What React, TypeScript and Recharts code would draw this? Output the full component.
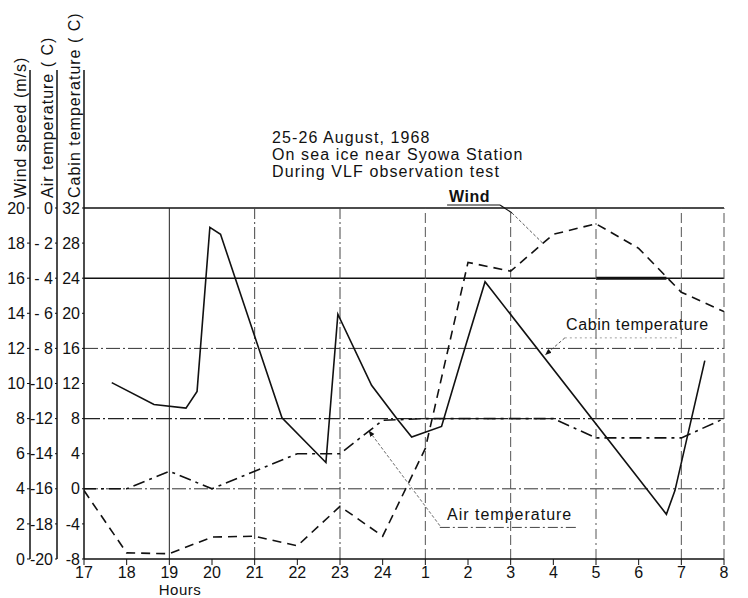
import React from "react";
import { LineChart, Line, XAxis, YAxis, ReferenceLine, Customized } from "recharts";

// hours run on past midnight: 25 = 1 h, 32 = 8 h
const hourTicks = [17, 18, 19, 20, 21, 22, 23, 24, 25, 26, 27, 28, 29, 30, 31, 32];

const windHours = [17, 18, 19, 20, 21, 22, 23, 24, 25, 26, 27, 28, 29, 30, 31, 32];
const windSpeed = [3.9, 0.35, 0.3, 1.25, 1.3, 0.75, 3.0, 1.3, 6.3, 16.9, 16.4, 18.5, 19.1, 17.7, 15.2, 14.1];

const airHours = [17, 18, 19, 20, 21, 22, 23, 24, 25, 26, 27, 28, 29, 30, 31, 32];
const airTemp = [-16, -16, -15, -16, -15, -14, -14, -12.1, -12, -12, -12, -12, -13.1, -13.1, -13.1, -12];

const cabinHours = [17.65, 18.64, 19.39, 19.65, 19.95, 20.2, 21.64, 22.67, 22.95, 23.74, 24.33, 24.68, 25.38, 25.85, 26.4, 30.65, 30.85, 31.55];
const cabinTemp = [12.1, 9.6, 9.2, 11.1, 29.8, 29.0, 8.1, 3.0, 19.9, 11.8, 8.0, 5.9, 7.1, 14.8, 23.6, -2.9, -0.2, 14.6];

const windTicks = [0, 2, 4, 6, 8, 10, 12, 14, 16, 18, 20];
const airTicks = [-20, -18, -16, -14, -12, -10, -8, -6, -4, -2, 0];
const cabinTicks = [-8, -4, 0, 4, 8, 12, 16, 20, 24, 28, 32];

const windData = windHours.map((h, i) => ({ h, v: windSpeed[i] }));
const airData = airHours.map((h, i) => ({ h, v: airTemp[i] }));
const cabinData = cabinHours.map((h, i) => ({ h, v: cabinTemp[i] }));

// left axes are stacked outward from the plot in id order
const CABIN = "y1Cabin";
const AIR = "y2Air";
const WIND = "y3Wind";

const FONT = "'Liberation Sans', Arial, sans-serif";
const INK = "#111";

const fmtHour = (h: number) => String(h > 24 ? h - 24 : h);
const fmtAir = (v: number) => (v === 0 ? "0" : v > -10 ? `- ${-v}` : `${v}`);

const tickStyle = { fontSize: 16, fill: INK, fontFamily: FONT };

function Decorations() {
  const txt = { fontFamily: FONT, fontSize: 16, fill: INK };
  return (
    <g>
      <defs>
        <marker id="arrowHead" viewBox="0 0 10 10" refX="9" refY="5" markerWidth="7" markerHeight="7" orient="auto">
          <path d="M0,1 L10,5 L0,9 z" fill={INK} />
        </marker>
      </defs>
      {/* axis lines continue up past the top grid line */}
      <line x1={30} y1={70} x2={30} y2={208} stroke={INK} strokeWidth={1.5} />
      <line x1={57} y1={70} x2={57} y2={208} stroke={INK} strokeWidth={1.5} />
      <line x1={84} y1={70} x2={84} y2={208} stroke={INK} strokeWidth={1.5} />
      <text {...txt} letterSpacing={1} transform="translate(26,198) rotate(-90)">Wind speed (m/s)</text>
      <text {...txt} letterSpacing={1} transform="translate(53,198) rotate(-90)">Air temperature ( C)</text>
      <text {...txt} letterSpacing={1} transform="translate(80,198) rotate(-90)">Cabin temperature ( C)</text>

      <text {...txt} x={272} y={143} letterSpacing={1.1}>25-26 August, 1968</text>
      <text {...txt} x={272} y={160} letterSpacing={1.1}>On sea ice near Syowa Station</text>
      <text {...txt} x={272} y={177} letterSpacing={1.1}>During VLF observation test</text>

      <text {...txt} x={449} y={202} fontWeight="bold" letterSpacing={0.5}>Wind</text>
      <text {...txt} x={566} y={330} letterSpacing={0.6}>Cabin temperature</text>
      <text {...txt} x={447} y={520} letterSpacing={1}>Air temperature</text>
      <text {...txt} x={180} y={595} fontSize={15} textAnchor="middle" letterSpacing={0.5}>Hours</text>
    </g>
  );
}

export default function App() {
  return (
    <div style={{ position: "absolute", left: 0, top: 0, width: 748, height: 598, background: "#fff" }}>
      <LineChart width={748} height={598} data={windData} margin={{ top: 208, right: 24, bottom: 9, left: 0 }}>
        <XAxis
          dataKey="h"
          type="number"
          domain={[17, 32]}
          ticks={hourTicks}
          tickFormatter={fmtHour}
          interval={0}
          height={30}
          tick={tickStyle}
          tickSize={6}
          tickMargin={2}
          axisLine={{ stroke: INK, strokeWidth: 1.5 }}
          tickLine={{ stroke: INK }}
          allowDataOverflow
        />
        <YAxis
          yAxisId={CABIN}
          orientation="left"
          type="number"
          domain={[-8, 32]}
          ticks={cabinTicks}
          interval={0}
          width={27}
          tick={tickStyle}
          tickSize={2}
          tickMargin={2}
          axisLine={{ stroke: INK, strokeWidth: 1.5 }}
          tickLine={{ stroke: INK }}
        />
        <YAxis
          yAxisId={AIR}
          orientation="left"
          type="number"
          domain={[-20, 0]}
          ticks={airTicks}
          tickFormatter={fmtAir}
          interval={0}
          width={27}
          tick={tickStyle}
          tickSize={2}
          tickMargin={2}
          axisLine={{ stroke: INK, strokeWidth: 1.5 }}
          tickLine={{ stroke: INK }}
        />
        <YAxis
          yAxisId={WIND}
          orientation="left"
          type="number"
          domain={[0, 20]}
          ticks={windTicks}
          interval={0}
          width={30}
          tick={tickStyle}
          tickSize={3}
          tickMargin={2}
          axisLine={{ stroke: INK, strokeWidth: 1.5 }}
          tickLine={{ stroke: INK }}
        />

        {/* horizontal rulings on the cabin scale */}
        <ReferenceLine yAxisId={CABIN} y={32} stroke={INK} strokeWidth={1.5} />
        <ReferenceLine yAxisId={CABIN} y={24} stroke={INK} strokeWidth={1.5} />
        <ReferenceLine yAxisId={CABIN} y={16} stroke="#333" strokeWidth={1} strokeDasharray="14 3 2 3" />
        <ReferenceLine yAxisId={CABIN} y={8} stroke="#222" strokeWidth={1.3} strokeDasharray="16 3 2 3" />
        <ReferenceLine yAxisId={CABIN} y={0} stroke="#333" strokeWidth={1} strokeDasharray="14 3 2 3" />
        <ReferenceLine
          yAxisId={CABIN}
          segment={[{ x: 29, y: 24 }, { x: 30.65, y: 24 }]}
          stroke={INK}
          strokeWidth={3}
        />

        {/* vertical rulings every two hours */}
        <ReferenceLine yAxisId={CABIN} x={19} stroke="#222" strokeWidth={1} />
        <ReferenceLine yAxisId={CABIN} x={21} stroke="#444" strokeWidth={1} strokeDasharray="12 3 2 3" />
        <ReferenceLine yAxisId={CABIN} x={23} stroke="#444" strokeWidth={1} strokeDasharray="12 3 2 3" />
        <ReferenceLine yAxisId={CABIN} x={25} stroke="#555" strokeWidth={1} strokeDasharray="10 4" />
        <ReferenceLine yAxisId={CABIN} x={27} stroke="#555" strokeWidth={1} strokeDasharray="10 4" />
        <ReferenceLine yAxisId={CABIN} x={29} stroke="#555" strokeWidth={1} strokeDasharray="10 4 2 4" />
        <ReferenceLine yAxisId={CABIN} x={31} stroke="#555" strokeWidth={1} strokeDasharray="10 4" />
        <ReferenceLine yAxisId={CABIN} x={32} stroke="#555" strokeWidth={1} strokeDasharray="10 4" />

        <Line
          data={windData}
          yAxisId={WIND}
          dataKey="v"
          type="linear"
          stroke={INK}
          strokeWidth={1.6}
          strokeDasharray="9 6"
          dot={false}
          isAnimationActive={false}
        />
        <Line
          data={airData}
          yAxisId={AIR}
          dataKey="v"
          type="linear"
          stroke={INK}
          strokeWidth={1.6}
          strokeDasharray="12 5 3 5"
          dot={false}
          isAnimationActive={false}
        />
        <Line
          data={cabinData}
          yAxisId={CABIN}
          dataKey="v"
          type="linear"
          stroke={INK}
          strokeWidth={1.6}
          dot={false}
          isAnimationActive={false}
        />

        {/* label leaders */}
        <ReferenceLine
          yAxisId={WIND}
          ifOverflow="visible"
          segment={[{ x: 25.51, y: 20.17 }, { x: 26.75, y: 20.17 }]}
          stroke={INK}
          strokeWidth={1.2}
        />
        <ReferenceLine
          yAxisId={WIND}
          ifOverflow="visible"
          segment={[{ x: 26.75, y: 20.17 }, { x: 27.03, y: 19.72 }]}
          stroke={INK}
          strokeWidth={1.2}
        />
        <ReferenceLine
          yAxisId={WIND}
          ifOverflow="visible"
          segment={[{ x: 27.03, y: 19.72 }, { x: 27.75, y: 18.0 }]}
          stroke="#444"
          strokeWidth={0.9}
          strokeDasharray="3 2"
        />
        <ReferenceLine
          yAxisId={CABIN}
          ifOverflow="visible"
          segment={[{ x: 28.27, y: 17.2 }, { x: 27.82, y: 15.3 }]}
          stroke="#444"
          strokeWidth={0.9}
          strokeDasharray="3 2"
          markerEnd="url(#arrowHead)"
        />
        <ReferenceLine
          yAxisId={CABIN}
          ifOverflow="visible"
          segment={[{ x: 28.27, y: 17.2 }, { x: 30.9, y: 17.2 }]}
          stroke="#888"
          strokeWidth={0.8}
          strokeDasharray="2 3"
        />
        <ReferenceLine
          yAxisId={AIR}
          ifOverflow="visible"
          segment={[{ x: 25.34, y: -18.1 }, { x: 23.68, y: -12.7 }]}
          stroke="#555"
          strokeWidth={0.9}
          strokeDasharray="3 2"
          markerEnd="url(#arrowHead)"
        />
        <ReferenceLine
          yAxisId={AIR}
          ifOverflow="visible"
          segment={[{ x: 25.34, y: -18.2 }, { x: 28.55, y: -18.2 }]}
          stroke="#444"
          strokeWidth={1}
          strokeDasharray="10 3 2 3"
        />

        <Customized component={<Decorations />} />
      </LineChart>
    </div>
  );
}
